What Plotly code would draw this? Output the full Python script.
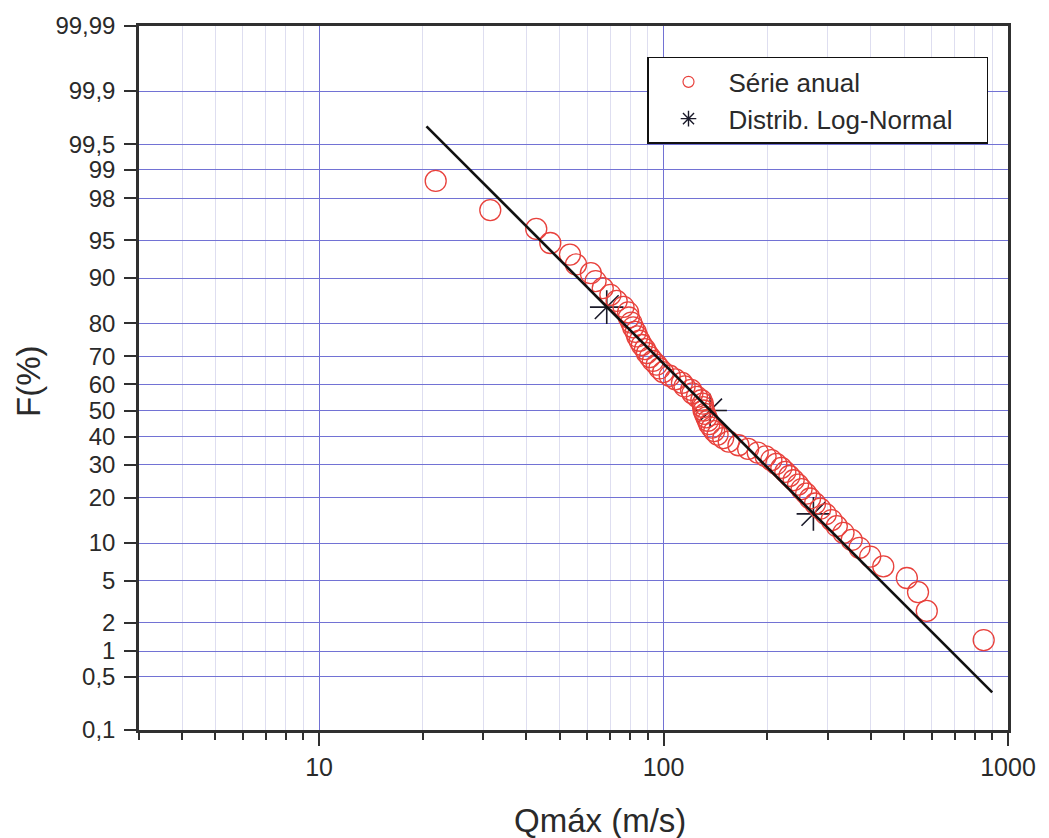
from statistics import NormalDist
import math
import plotly.graph_objects as go

# ---- data -------------------------------------------------------------
# annual maximum discharges (ascending) and their plotting positions F (%)
q_obs = [21.8, 31.4, 42.7, 46.9, 53.5, 55.7, 61.5, 63.5, 66.6, 70.1,
         73.1, 76.5, 78.9, 79.3, 80.6, 81.6, 83.0, 83.9, 85.2, 86.5,
         88.3, 89.5, 91.3, 93.1, 95.5, 97.3, 99.7, 104.2, 108.3, 113.1,
         115.1, 120.2, 121.3, 125.0, 128.7, 130.0, 130.3, 130.7, 131.9, 133.2,
         134.5, 135.8, 138.1, 140.3, 143.5, 149.0, 154.6, 165.0, 176.0, 187.7,
         197.8, 205.6, 212.5, 219.8, 225.7, 232.0, 238.6, 245.8, 251.6, 259.4,
         266.3, 275.4, 285.1, 295.8, 307.5, 318.4, 333.0, 351.7, 370.6, 398.1,
         434.4, 508.6, 548.0, 581.0, 850.0]
f_obs = [98.68, 97.37, 96.05, 94.74, 93.42, 92.11, 90.79, 89.47, 88.16, 86.84,
         85.53, 84.21, 82.89, 81.58, 80.26, 78.95, 77.63, 76.32, 75.00, 73.68,
         72.37, 71.05, 69.74, 68.42, 67.11, 65.79, 64.47, 63.16, 61.84, 60.53,
         59.21, 57.89, 56.58, 55.26, 53.95, 52.63, 51.32, 50.00, 48.68, 47.37,
         46.05, 44.74, 43.42, 42.11, 40.79, 39.47, 38.16, 36.84, 35.53, 34.21,
         32.89, 31.58, 30.26, 28.95, 27.63, 26.32, 25.00, 23.68, 22.37, 21.05,
         19.74, 18.42, 17.11, 15.79, 14.47, 13.16, 11.84, 10.53, 9.21, 7.89,
         6.58, 5.26, 3.95, 2.63, 1.32]

# log-normal reference points (mean and +/- one standard deviation)
q_dist = [68.4, 136.5, 272.3]
f_dist = [84.13, 50.0, 15.87]

# fitted log-normal line (straight on probability paper)
q_line = [20.5, 900.0]
f_line = [99.70, 0.32]

y_tick_pct = [99.99, 99.9, 99.5, 99, 98, 95, 90, 80, 70, 60, 50,
              40, 30, 20, 10, 5, 2, 1, 0.5, 0.1]
y_tick_text = ["99,99", "99,9", "99,5", "99", "98", "95", "90", "80", "70",
               "60", "50", "40", "30", "20", "10", "5", "2", "1", "0,5", "0,1"]
x_tick_vals = [10, 100, 1000]
x_tick_text = ["10", "100", "1000"]
x_minor_vals = [k * 10 ** d for d in range(0, 3) for k in range(2, 10)
                if k * 10 ** d >= 3]

# ---- probability-paper transform --------------------------------------
_nd = NormalDist()


def probit(pct):
    return _nd.inv_cdf(pct / 100.0)


FONT = "Liberation Sans, Arial, sans-serif"
TXT = "#2a2a2a"
AXC = "#303030"
GRID = "#7272d4"
MINOR_GRID = "#dedef0"
RED = "#e8413c"
STAR = "#1a1a2a"
NBSP = "\u00a0"

fig = go.Figure()

# distribution points (drawn first, circles overlap them)
fig.add_trace(go.Scatter(
    x=q_dist, y=[probit(f) for f in f_dist], mode="markers",
    marker=dict(symbol="asterisk-open", size=28, color=STAR,
                line=dict(color=STAR, width=1.6)),
    showlegend=False, hoverinfo="skip"))

# observed annual series
fig.add_trace(go.Scatter(
    x=q_obs, y=[probit(f) for f in f_obs], mode="markers",
    marker=dict(symbol="circle-open", size=21,
                line=dict(color=RED, width=1.3), color=RED),
    showlegend=False))

# fitted line
fig.add_trace(go.Scatter(
    x=q_line, y=[probit(f) for f in f_line], mode="lines",
    line=dict(color="#111111", width=2.6),
    showlegend=False, hoverinfo="skip"))

# legend entries
fig.add_trace(go.Scatter(
    x=[None], y=[None], mode="markers", name="Série anual",
    marker=dict(symbol="circle-open", size=11,
                line=dict(color=RED, width=1.2), color=RED)))
fig.add_trace(go.Scatter(
    x=[None], y=[None], mode="markers",
    name="Distrib. Log-Normal" + NBSP * 4,
    marker=dict(symbol="asterisk-open", size=13, color=STAR,
                line=dict(color=STAR, width=1.4))))

fig.update_layout(
    width=1049, height=838,
    margin=dict(l=139, r=41, t=24, b=108),
    paper_bgcolor="white", plot_bgcolor="white",
    font=dict(family=FONT, color=TXT, size=24),
    showlegend=True,
    legend=dict(
        x=(647 - 139) / 869, y=1 - (55 - 24) / 706,
        xanchor="left", yanchor="top",
        bgcolor="white", bordercolor="#111111", borderwidth=1.5,
        font=dict(family=FONT, size=26, color=TXT),
        itemwidth=70, tracegroupgap=0,
    ),
    xaxis=dict(
        type="log", range=[math.log10(3), 3],
        tickmode="array", tickvals=x_tick_vals, ticktext=x_tick_text,
        ticks="outside", ticklen=13, tickwidth=2, tickcolor=AXC,
        showline=True, linewidth=2.5, linecolor=AXC, mirror=True,
        showgrid=True, gridcolor=GRID, gridwidth=1.2,
        zeroline=False,
        tickfont=dict(family=FONT, size=25, color=TXT),
        minor=dict(tickmode="array", tickvals=x_minor_vals,
                   ticks="outside", ticklen=7, tickwidth=1.5, tickcolor=AXC,
                   showgrid=True, gridcolor=MINOR_GRID, gridwidth=1),
    ),
    yaxis=dict(
        range=[probit(0.1), probit(99.99)],
        tickmode="array", tickvals=[probit(p) for p in y_tick_pct],
        ticktext=y_tick_text,
        ticks="outside", ticklen=12, tickwidth=2, tickcolor=AXC,
        showline=True, linewidth=2.5, linecolor=AXC, mirror=True,
        showgrid=True, gridcolor=GRID, gridwidth=1.2,
        zeroline=False, ticklabelstandoff=4,
        tickfont=dict(family=FONT, size=24, color=TXT),
    ),
    annotations=[
        dict(text="Qmáx (m/s)", xref="paper", yref="paper",
             x=(600 - 139) / 869, y=0, yshift=-90,
             xanchor="center", yanchor="middle", showarrow=False,
             font=dict(family=FONT, size=33, color=TXT)),
        dict(text="F(%)", xref="paper", yref="paper",
             x=0, xshift=-110, y=1 - (381 - 24) / 706,
             xanchor="center", yanchor="middle", textangle=-90,
             showarrow=False,
             font=dict(family=FONT, size=33, color=TXT)),
    ],
)

fig.write_html("out.html")
